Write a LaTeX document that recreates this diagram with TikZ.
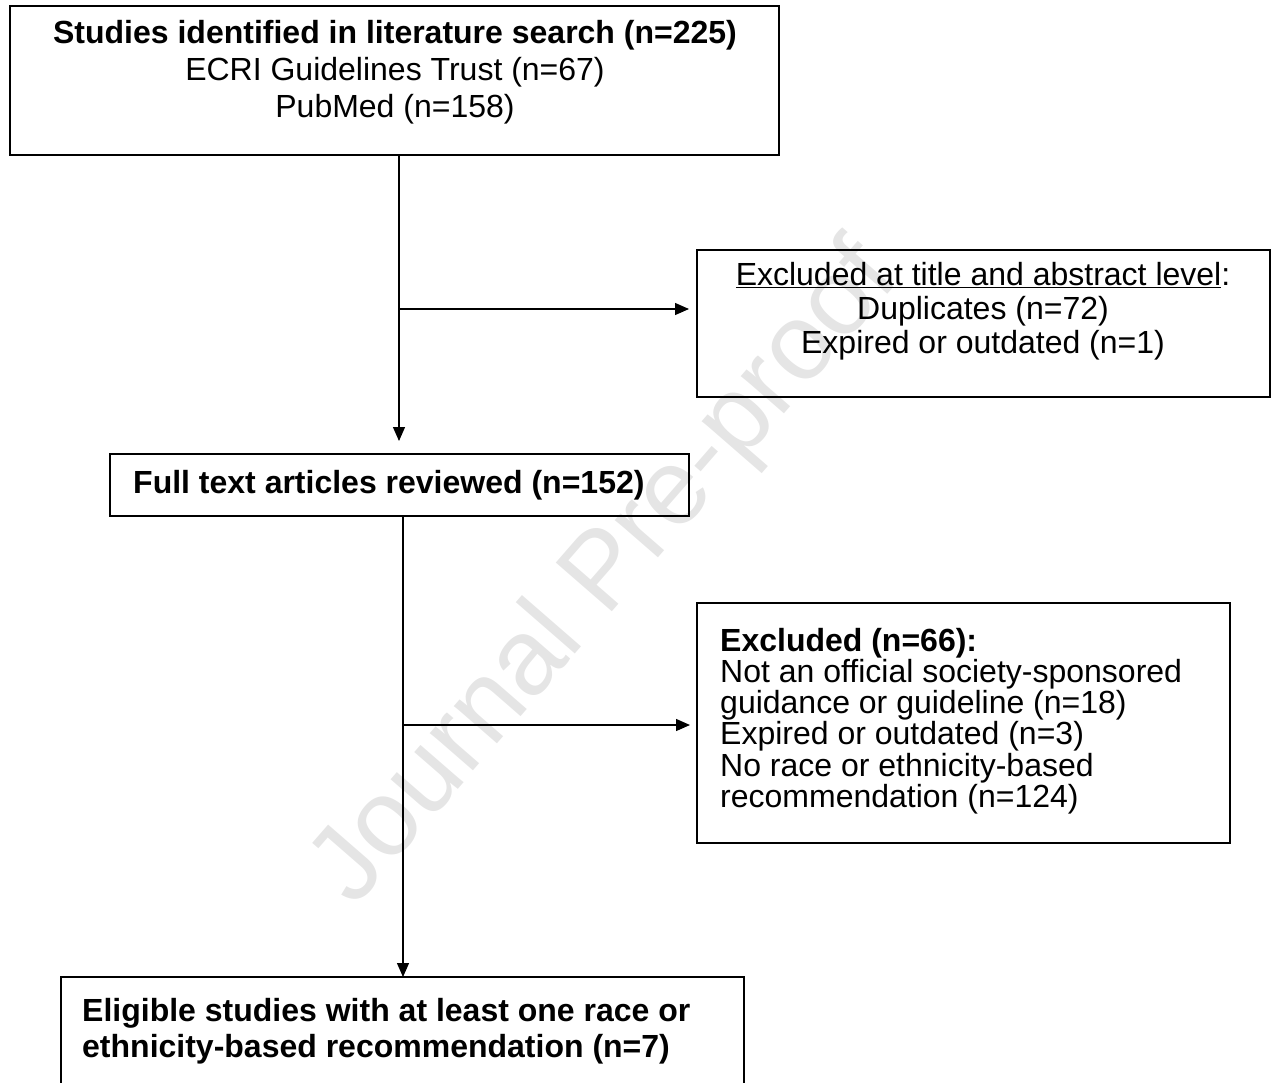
\documentclass[tikz,border=0pt]{standalone}
\usepackage{fontspec}
\setmainfont{Liberation Sans}
\usepackage{xcolor}
\usepackage{tikz}
\usetikzlibrary{arrows.meta,positioning}

\begin{document}
\begin{tikzpicture}[x=1pt, y=-1pt,
  box/.style={draw, line width=2.6pt, outer sep=0pt, inner sep=0pt},
  txt/.style={inner sep=0pt, font=\fontsize{32}{37}\selectfont},
  flow/.style={line width=1.3pt, -{Triangle[length=14pt,width=12pt]}},
  line/.style={line width=1.3pt}]
\useasboundingbox (0,0) rectangle (1272,1082);
%%%%% Watermark %%%%%
\node[rotate=49, text=black!10, inner sep=0pt, font=\fontsize{108}{108}\selectfont] (mark) at (607,575) {Journal Pre-proof};
%%%%% Boxes %%%%%
\node[box, anchor=north west, minimum width=769pt, minimum height=149pt] (search) at (10,6) {};
\node[box, anchor=north west, minimum width=573pt, minimum height=147pt] (exclA) at (697,250) {};
\node[box, anchor=north west, minimum width=579pt, minimum height=62pt] (fulltext) at (110,454) {};
\node[box, anchor=north west, minimum width=533pt, minimum height=240pt] (exclB) at (697,603) {};
\node[box, anchor=north west, minimum width=683pt, minimum height=160pt] (eligible) at (61,977) {};
%%%%% Texts %%%%%
\node[txt, align=center] (searchtxt) at (395,72) {\textbf{Studies identified in literature search (n=225)}\\ECRI Guidelines Trust (n=67)\\PubMed (n=158)};
\node[txt, align=center, font=\fontsize{32}{34}\selectfont] (exclAtxt) at (983,311) {\underline{Excluded at title and abstract level}:\\Duplicates (n=72)\\Expired or outdated (n=1)};
\node[txt, anchor=west] (fulltexttxt) at (133,485) {\textbf{Full text articles reviewed (n=152)}};
\node[txt, align=left, anchor=north west, font=\fontsize{32}{31.2}\selectfont] (exclBtxt) at (720,628) {\textbf{Excluded (n=66):}\\Not an official society-sponsored\\guidance or guideline (n=18)\\Expired or outdated (n=3)\\No race or ethnicity-based\\recommendation (n=124)};
\node[txt, align=left, anchor=west, font=\fontsize{32}{36}\selectfont] (eligibletxt) at (82,1031) {\textbf{Eligible studies with at least one race or}\\\textbf{ethnicity-based recommendation (n=7)}};
%%%%% Arrows %%%%%
\coordinate (split1) at (399,309);
\coordinate (split2) at (403,725);
\draw[flow, shorten >=13pt] (search.south -| split1) -- (fulltext.north -| split1);
\draw[flow, shorten >=8pt] (split1) -- (exclA.west |- split1);
\draw[flow] (fulltext.south -| split2) -- (eligible.north -| split2);
\draw[flow, shorten >=7pt] (split2) -- (exclB.west |- split2);
\end{tikzpicture}
\end{document}
